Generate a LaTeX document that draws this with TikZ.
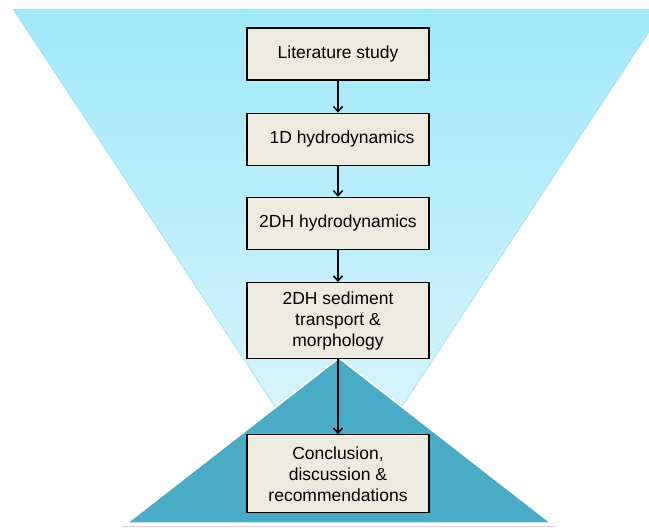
\documentclass[tikz,border=0pt]{standalone}
\usepackage{fontspec}
\setmainfont{Liberation Sans}
\usetikzlibrary{positioning,arrows.meta}
\definecolor{funneltop}{HTML}{9FE8FB}
\definecolor{funnelbottom}{HTML}{E2F7FD}
\definecolor{funneledge}{HTML}{86D6EE}
\definecolor{basefill}{HTML}{4AABC6}
\definecolor{boxfill}{HTML}{EDEBE0}

\begin{document}
\begin{tikzpicture}[
    x=1pt, y=-1pt,
    node distance=32pt,
    every node/.style={rectangle, draw, line width=1.2pt, fill=boxfill, minimum width=182pt, minimum height=52pt, align=center, font=\fontsize{17.5}{21}\selectfont},
    flow/.style={-{Straight Barb[length=5pt,width=9pt]}, line width=1.6pt}
]
    \useasboundingbox (0,0) rectangle (649,528);
    \clip (0,0) rectangle (649,528);

    % funnel and base
    \shade[top color=funneltop, bottom color=funnelbottom, draw=funneledge] (13,9) -- (664,9) -- (338.5,503) -- cycle;
    \draw[gray!35, line width=1pt] (122,526) -- (556,526);
    \filldraw[fill=basefill, draw=white, line width=1.5pt] (339,358) -- (551,523) -- (127,523) -- cycle;

    % steps
    \node (literature) at (338,54) {Literature study};
    \node (hydro1d) [below=of literature] {\hspace*{8pt}1D hydrodynamics};
    \node (hydro2dh) [below=31pt of hydro1d] {2DH hydrodynamics};
    \node (sediment) [below=of hydro2dh, minimum height=76pt] {2DH sediment\\transport \&\\morphology};
    \node (conclusion) [below=75pt of sediment, minimum height=78pt] {Conclusion,\\discussion \&\\recommendations};

    \draw[flow] (literature) -- (hydro1d);
    \draw[flow] (hydro1d) -- (hydro2dh);
    \draw[flow] (hydro2dh) -- (sediment);
    \draw[flow] (sediment) -- (conclusion);
\end{tikzpicture}
\end{document}
